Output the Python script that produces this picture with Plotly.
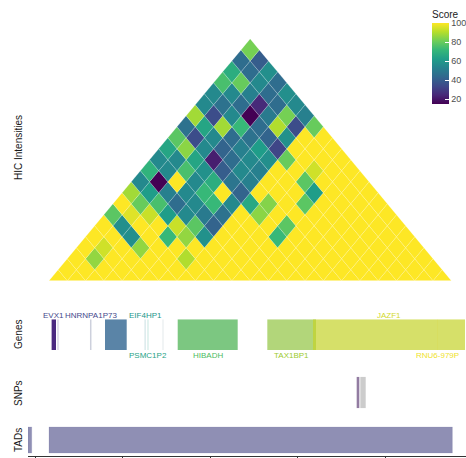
import plotly.graph_objects as go
from plotly.colors import sample_colorscale

# ---------------------------------------------------------------------------
# Hi-C contact scores, one list per diagonal offset (0 = main diagonal).
# Entry i of offset d is the contact between bin i and bin i + d.
# ---------------------------------------------------------------------------
hic_diagonals = [
    [100] * 22,
    [100] * 21,
    [100, 86, 100, 100, 100, 100, 90, 100, 100, 100, 100, 100, 100, 100, 100, 100, 100, 100, 100, 100],
    [100, 94, 100, 86, 100, 100, 100, 100, 100, 100, 100, 100, 100, 100, 100, 100, 100, 100, 100],
    [100, 100, 57, 100, 72, 86, 58, 100, 100, 100, 72, 100, 100, 100, 100, 100, 100, 100],
    [100, 57, 100, 100, 93, 78, 42, 100, 100, 100, 78, 100, 100, 100, 100, 100, 100],
    [78, 96, 93, 62, 55, 50, 47, 100, 85, 100, 100, 100, 100, 100, 100, 100],
    [100, 80, 75, 45, 55, 72, 55, 66, 84, 100, 78, 100, 100, 100, 100],
    [88, 62, 52, 55, 72, 100, 42, 100, 100, 100, 62, 100, 100, 100],
    [55, 15, 100, 55, 68, 48, 52, 100, 100, 78, 100, 100, 100],
    [70, 55, 75, 58, 40, 55, 52, 100, 100, 94, 100, 100],
    [55, 55, 65, 22, 45, 55, 57, 80, 100, 100, 100],
    [65, 85, 55, 42, 52, 62, 33, 100, 100, 100],
    [78, 35, 55, 45, 47, 42, 58, 100, 100],
    [47, 65, 88, 72, 45, 90, 35, 80],
    [88, 35, 55, 15, 50, 82, 52],
    [55, 47, 45, 25, 45, 55],
    [55, 55, 52, 45, 57],
    [75, 80, 55, 45],
    [68, 45, 57],
    [45, 40],
    [82],
]
hic_bin_start = 27_232_000
hic_bin_size = 41_800
score_min, score_max = 15, 100
score_ticks = [20, 40, 60, 80, 100]

# Gene annotations (bp); empty name = unlabeled feature
gene_names = ["EVX1", "", "HNRNPA1P73", "", "EIF4HP1", "PSMC1P2", "",
              "HIBADH", "TAX1BP1", "JAZF1", "RNU6-979P"]
gene_starts = [27_238_000, 27_251_400, 27_325_700, 27_360_000, 27_450_500, 27_457_100,
               27_491_400, 27_526_200, 27_731_000, 27_835_400, 28_118_900]
gene_ends = [27_248_000, 27_253_700, 27_329_100, 27_409_600, 27_452_800, 27_459_400,
             27_493_700, 27_663_300, 27_842_300, 28_182_900, 28_121_000]

# SNP intervals (bp)
snp_starts = [27_935_300, 27_943_600]
snp_ends = [27_941_300, 27_955_900]

# TAD intervals (bp)
tad_starts = [27_184_000, 27_232_000]
tad_ends = [27_192_500, 28_154_000]

x_ticks = [27_200_000, 27_400_000, 27_600_000, 27_800_000, 28_000_000, 28_200_000]
x_range = [27_184_000, 28_185_143]

# ---------------------------------------------------------------------------
# styling
# ---------------------------------------------------------------------------
FONT = "Liberation Sans, Arial, sans-serif"
gene_fill = ["rgba(55,18,113,0.9)", "rgba(70,60,130,0.3)", "rgba(90,100,140,0.3)",
             "rgba(20,80,130,0.7)", "rgba(38,130,142,0.25)", "rgba(31,158,137,0.25)",
             "rgba(120,150,160,0.2)", "rgba(68,175,76,0.7)", "rgba(145,196,65,0.7)",
             "rgba(196,211,42,0.7)", "rgba(230,215,40,0.12)"]
gene_text = ["#45478a", "", "#45498c", "", "#21968a", "#1fa386", "",
             "#4cbb62", "#9cca2e", "#d2d92a", "#efe22a"]
gene_label_side = ["above", "", "above", "", "above", "below", "",
                   "below", "below", "above", "below"]
snp_fill = ["rgba(110,80,130,0.75)", "rgba(170,170,170,0.6)"]
tad_fill = "rgba(90,90,145,0.68)"

# paper-coordinate layout of the four tracks
PLOT_H = 456
def px_to_paper(py):
    return (PLOT_H - py) / PLOT_H

dom_tad = [px_to_paper(453.3), px_to_paper(426.7)]
dom_snp = [px_to_paper(408.3), px_to_paper(376.7)]
dom_gene = [px_to_paper(350.0), px_to_paper(319.3)]
dom_hic = [px_to_paper(280.7), px_to_paper(38.9)]

fig = go.Figure()


def rect_trace(x0, x1, y0, y1, yaxis, color, line_color=None, line_width=0):
    return go.Scatter(
        x=[x0, x1, x1, x0, x0], y=[y0, y0, y1, y1, y0],
        mode="lines", fill="toself", fillcolor=color,
        line=dict(width=line_width, color=line_color or "rgba(0,0,0,0)"),
        xaxis="x", yaxis=yaxis, hoverinfo="skip", showlegend=False,
    )


# --- Hi-C triangle: each contact drawn as a diamond rotated 45 degrees ---
for d, row in enumerate(hic_diagonals):
    norm = [(v - score_min) / (score_max - score_min) for v in row]
    colors = sample_colorscale("Viridis", norm)
    for i, c in enumerate(colors):
        xc = hic_bin_start + (2 * i + d + 1) * hic_bin_size / 2
        half = hic_bin_size / 2
        xs = [xc - half, xc, xc + half, xc, xc - half]
        ys = [d, d + 1, d, max(d - 1, 0), d]
        fig.add_trace(go.Scatter(
            x=xs, y=ys, mode="lines", fill="toself", fillcolor=c,
            line=dict(width=0.5, color="rgba(255,255,255,0.35)"),
            xaxis="x", yaxis="y4", hoverinfo="skip", showlegend=False,
        ))

# colour scale legend
fig.add_trace(go.Scatter(
    x=[hic_bin_start], y=[0], mode="markers", xaxis="x", yaxis="y4",
    marker=dict(size=1, opacity=0, color=[score_max], colorscale="Viridis",
                cmin=score_min, cmax=score_max, showscale=True,
                colorbar=dict(
                    title=dict(text="Score", side="top",
                               font=dict(size=10, color="#222222", family=FONT)),
                    thickness=17, thicknessmode="pixels",
                    len=97, lenmode="pixels",
                    x=0.9224, xanchor="left", y=px_to_paper(104), yanchor="bottom",
                    xpad=0, ypad=0, outlinewidth=0,
                    ticks="inside", ticklen=4, tickcolor="white", tickwidth=1,
                    tickvals=score_ticks,
                    tickfont=dict(size=9, color="#4d4d4d", family=FONT),
                )),
    hoverinfo="skip", showlegend=False,
))

# --- Genes track ---
annotations = []
for name, s, e, side, fcol, tcol in zip(gene_names, gene_starts, gene_ends,
                                       gene_label_side, gene_fill, gene_text):
    fig.add_trace(rect_trace(s, e, 0, 1, "y3", fcol))
    if name:
        annotations.append(dict(
            x=(s + e) / 2, y=px_to_paper(315.0 if side == "above" else 355.7),
            xref="x", yref="paper", text=name, showarrow=False,
            font=dict(size=8, color=tcol, family=FONT),
            xanchor="center", yanchor="middle",
        ))

# --- SNPs track ---
for s, e, col in zip(snp_starts, snp_ends, snp_fill):
    fig.add_trace(rect_trace(s, e, 0, 1, "y2", col))

# --- TADs track ---
for s, e in zip(tad_starts, tad_ends):
    fig.add_trace(rect_trace(s, e, 0, 1, "y", tad_fill,
                             line_color="rgba(90,90,145,0.3)", line_width=0.5))

# track titles
for text, py in [("HIC Intensities", 148), ("Genes", 335),
                 ("SNPs", 393), ("TADs", 440)]:
    annotations.append(dict(
        x=-0.0228, y=px_to_paper(py), xref="paper", yref="paper", text=text,
        textangle=-90, showarrow=False, xanchor="center", yanchor="middle",
        font=dict(size=10, color="#1a1a1a", family=FONT),
    ))

hidden_y = dict(visible=False, showgrid=False, zeroline=False, fixedrange=True)
fig.update_layout(
    width=466, height=458,
    margin=dict(l=28, r=0, t=0, b=2, autoexpand=False),
    paper_bgcolor="white", plot_bgcolor="white",
    font=dict(family=FONT),
    xaxis=dict(range=x_range, anchor="free", position=0,
               showgrid=False, zeroline=False,
               showline=True, linecolor="#333333", linewidth=1,
               ticks="outside", ticklen=3, tickcolor="#333333",
               tickvals=x_ticks, showticklabels=False),
    yaxis=dict(domain=dom_tad, range=[0, 1], anchor="x", **hidden_y),
    yaxis2=dict(domain=dom_snp, range=[0, 1], anchor="x", **hidden_y),
    yaxis3=dict(domain=dom_gene, range=[0, 1], anchor="x", **hidden_y),
    yaxis4=dict(domain=dom_hic, range=[0, 22], anchor="x", **hidden_y),
    annotations=annotations,
    showlegend=False,
)

fig.write_html("out.html")
